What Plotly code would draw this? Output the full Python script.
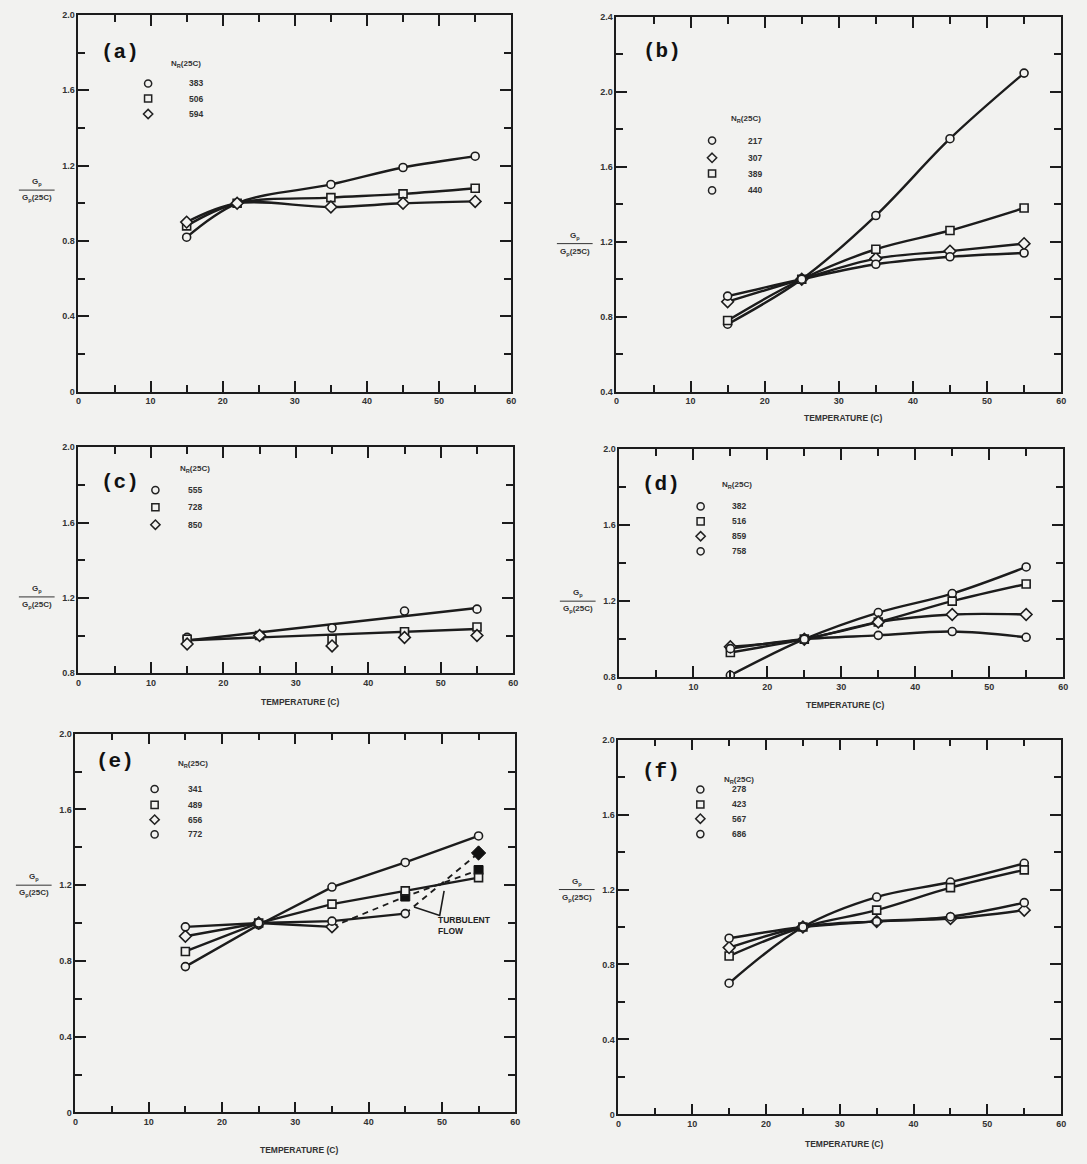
import numpy as np
import plotly.graph_objects as go

W, H = 1087, 1164
BG = "#f2f2f0"
INK = "#1c1c1c"
FONT = "Liberation Sans"

# ---------------- data ----------------
T_A = [15, 22, 35, 45, 55]
T_STD = [15, 25, 35, 45, 55]
T_E_656 = [15, 25, 35]
T_E_772 = [15, 25, 35, 45]
T_E_TURB1 = [35, 45, 55]
T_E_TURB2 = [45, 55]

A_383 = [0.82, 1.00, 1.10, 1.19, 1.25]
A_506 = [0.88, 1.00, 1.03, 1.05, 1.08]
A_594 = [0.90, 1.00, 0.98, 1.00, 1.01]

B_217 = [0.76, 1.00, 1.34, 1.75, 2.10]
B_307 = [0.88, 1.00, 1.11, 1.15, 1.19]
B_389 = [0.78, 1.00, 1.16, 1.26, 1.38]
B_440 = [0.91, 1.00, 1.08, 1.12, 1.14]

C_555 = [0.99, 1.00, 1.04, 1.13, 1.14]
C_728 = [0.98, 1.00, 0.98, 1.02, 1.045]
C_850 = [0.955, 1.00, 0.945, 0.99, 1.00]

D_382 = [0.81, 1.00, 1.14, 1.24, 1.38]
D_516 = [0.93, 1.00, 1.09, 1.20, 1.29]
D_859 = [0.96, 1.00, 1.09, 1.13, 1.13]
D_758 = [0.95, 1.00, 1.02, 1.04, 1.01]

E_341 = [0.77, 0.99, 1.19, 1.32, 1.46]
E_489 = [0.85, 1.00, 1.10, 1.17, 1.24]
E_656 = [0.93, 1.00, 0.98]
E_772 = [0.98, 1.00, 1.01, 1.05]
E_TURB1 = [0.98, 1.14, 1.28]
E_TURB2 = [1.05, 1.37]

F_278 = [0.70, 1.00, 1.16, 1.24, 1.34]
F_423 = [0.845, 1.00, 1.09, 1.21, 1.305]
F_567 = [0.89, 1.00, 1.03, 1.045, 1.09]
F_686 = [0.94, 1.00, 1.03, 1.055, 1.13]

# tick labels
X_TICKS = [0, 10, 20, 30, 40, 50, 60]
X_TICKTEXT = ["0", "10", "20", "30", "40", "50", "60"]
Y_TICKS_0 = [0, 0.4, 0.8, 1.2, 1.6, 2.0]
Y_TEXT_0 = ["0", "0.4", "0.8", "1.2", "1.6", "2.0"]
Y_TICKS_B = [0.4, 0.8, 1.2, 1.6, 2.0, 2.4]
Y_TEXT_B = ["0.4", "0.8", "1.2", "1.6", "2.0", "2.4"]
Y_TICKS_C = [0.8, 1.2, 1.6, 2.0]
Y_TEXT_C = ["0.8", "1.2", "1.6", "2.0"]

# (label, x, y, symbol, line) ; line = "spline" smooth curve, "fit1" least-squares straight line,
# "seg" straight segments, None = no line
SERIES = {
    "a": [("383", T_A, A_383, "circle", "spline"), ("506", T_A, A_506, "square", "spline"),
          ("594", T_A, A_594, "diamond", "spline")],
    "b": [("217", T_STD, B_217, "circle", "spline"), ("307", T_STD, B_307, "diamond", "spline"),
          ("389", T_STD, B_389, "square", "spline"), ("440", T_STD, B_440, "circle", "spline")],
    "c": [("555", T_STD, C_555, "circle", "fit1"), ("728", T_STD, C_728, "square", "fit1"),
          ("850", T_STD, C_850, "diamond", None)],
    "d": [("382", T_STD, D_382, "circle", "spline"), ("516", T_STD, D_516, "square", "spline"),
          ("859", T_STD, D_859, "diamond", "spline"), ("758", T_STD, D_758, "circle", "spline")],
    "e": [("341", T_STD, E_341, "circle", "seg"), ("489", T_STD, E_489, "square", "seg"),
          ("656", T_E_656, E_656, "diamond", "seg"), ("772", T_E_772, E_772, "circle", "seg")],
    "f": [("278", T_STD, F_278, "circle", "spline"), ("423", T_STD, F_423, "square", "spline"),
          ("567", T_STD, F_567, "diamond", "spline"), ("686", T_STD, F_686, "circle", "spline")],
}

# panel boxes in page pixels: left, right, top, bottom
PANELS = {
    "a": dict(box=(76, 512, 10, 390), yr=(0, 2.0), yt=(Y_TICKS_0, Y_TEXT_0), frac=1.07, xtitle=None),
    "b": dict(box=(618, 1066, 12, 390), yr=(0.4, 2.4), yt=(Y_TICKS_B, Y_TEXT_B), frac=1.19, xtitle=27),
    "c": dict(box=(76, 514, 446, 674), yr=(0.8, 2.0), yt=(Y_TICKS_C, Y_TEXT_C), frac=1.205, xtitle=29),
    "d": dict(box=(621, 1068, 448, 678), yr=(0.8, 2.0), yt=(Y_TICKS_C, Y_TEXT_C), frac=1.2, xtitle=28),
    "e": dict(box=(73, 516, 735, 1117), yr=(0, 2.0), yt=(Y_TICKS_0, Y_TEXT_0), frac=1.2, xtitle=38),
    "f": dict(box=(620, 1066, 741, 1119), yr=(0, 2.0), yt=(Y_TICKS_0, Y_TEXT_0), frac=1.2, xtitle=30),
}
# legend placement as fractions of panel (x from left, y from top)
LEGEND_POS = {
    "a": dict(lab=(0.048, 0.10), head=(0.21, 0.13), sym=0.161, num=0.25, rows=[0.182, 0.222, 0.263]),
    "b": dict(lab=(0.056, 0.093), head=(0.254, 0.273), sym=0.215, num=0.292, rows=[0.33, 0.376, 0.418, 0.463]),
    "c": dict(lab=(0.048, 0.156), head=(0.23, 0.095), sym=0.177, num=0.247, rows=[0.19, 0.266, 0.343]),
    "d": dict(lab=(0.046, 0.153), head=(0.227, 0.157), sym=0.183, num=0.25, rows=[0.251, 0.317, 0.382, 0.448]),
    "e": dict(lab=(0.043, 0.074), head=(0.229, 0.079), sym=0.18, num=0.252, rows=[0.146, 0.188, 0.227, 0.266]),
    "f": dict(lab=(0.049, 0.086), head=(0.233, 0.108), sym=0.185, num=0.253, rows=[0.133, 0.173, 0.211, 0.252]),
}

fig = go.Figure()
annotations = []
shapes = []


def px2paper(x, y):
    return x / W, 1 - y / H


def legend_symbol(sym, cx, cy, r=3.6):
    x0, y0 = px2paper(cx - r, cy + r)
    x1, y1 = px2paper(cx + r, cy - r)
    ln = dict(color="#222", width=1.5)
    if sym == "circle":
        return dict(type="circle", xref="paper", yref="paper", x0=x0, x1=x1, y0=y0, y1=y1, line=ln)
    if sym == "square":
        return dict(type="rect", xref="paper", yref="paper", x0=x0, x1=x1, y0=y0, y1=y1, line=ln)
    d = r * 1.3
    pts = [px2paper(cx, cy - d), px2paper(cx + d, cy), px2paper(cx, cy + d), px2paper(cx - d, cy)]
    path = "M " + " L ".join(f"{a:.5f},{b:.5f}" for a, b in pts) + " Z"
    return dict(type="path", xref="paper", yref="paper", path=path, line=ln)


LINE = dict(color=INK, width=2.4)

for i, key in enumerate(["a", "b", "c", "d", "e", "f"], start=1):
    p = PANELS[key]
    l, r, t, b = p["box"]
    xa = "x" if i == 1 else f"x{i}"
    ya = "y" if i == 1 else f"y{i}"
    xname = "xaxis" if i == 1 else f"xaxis{i}"
    yname = "yaxis" if i == 1 else f"yaxis{i}"
    yt, ytxt = p["yt"]
    common = dict(showline=True, linecolor=INK, linewidth=1.6, mirror="ticks", showgrid=False,
                  zeroline=False, ticks="inside", ticklen=11, tickwidth=1.7, tickcolor=INK,
                  tickfont=dict(family=FONT, size=9, color="#333", weight="bold"), fixedrange=True)
    fig.layout[xname] = dict(domain=[l / W, r / W], anchor=ya, range=[0, 60], tickmode="linear",
                             tick0=X_TICKS[0], dtick=X_TICKS[1] - X_TICKS[0], tickformat="d",
                             labelalias={str(v): s for v, s in zip(X_TICKS, X_TICKTEXT)},
                             minor=dict(tick0=0, dtick=(X_TICKS[1] - X_TICKS[0]) / 2, ticks="inside", ticklen=7,
                                        tickwidth=1.7, tickcolor=INK, showgrid=False), **common)
    fig.layout[yname] = dict(domain=[1 - b / H, 1 - t / H], anchor=xa, range=list(p["yr"]), tickmode="linear",
                             tick0=yt[0], dtick=round(yt[1] - yt[0], 3), tickformat=".1f",
                             labelalias={f"{v:.1f}": s for v, s in zip(yt, ytxt)},
                             minor=dict(tick0=0, dtick=round((yt[1] - yt[0]) / 2, 3), ticks="inside", ticklen=7,
                                        tickwidth=1.7, tickcolor=INK, showgrid=False), **common)

    # curves then markers
    for lab, xs, ys, sym, kind in SERIES[key]:
        if kind == "seg":
            fig.add_trace(go.Scatter(x=xs, y=ys, mode="lines", xaxis=xa, yaxis=ya, line=LINE,
                                     showlegend=False, hoverinfo="skip"))
        elif kind == "spline":
            fig.add_trace(go.Scatter(x=xs, y=ys, mode="lines", xaxis=xa, yaxis=ya,
                                     line=dict(LINE, shape="spline", smoothing=1.0),
                                     showlegend=False, hoverinfo="skip"))
        elif kind == "fit1":
            coef = np.polyfit(xs, ys, 1)
            xf = np.array([min(xs), max(xs)], float)
            fig.add_trace(go.Scatter(x=xf, y=np.polyval(coef, xf), mode="lines", xaxis=xa, yaxis=ya,
                                     line=LINE, showlegend=False, hoverinfo="skip"))
    if key == "e":
        for tx, ty in ((T_E_TURB1, E_TURB1), (T_E_TURB2, E_TURB2)):
            fig.add_trace(go.Scatter(x=tx, y=ty, mode="lines", xaxis=xa, yaxis=ya,
                                     line=dict(color=INK, width=1.8, dash="6px,5px"),
                                     showlegend=False, hoverinfo="skip"))
        fig.add_trace(go.Scatter(x=T_E_TURB1[1:], y=E_TURB1[1:], mode="markers", xaxis=xa, yaxis=ya,
                                 marker=dict(symbol="square", size=9, color="#111111",
                                             line=dict(color="#111111", width=1)),
                                 showlegend=False, hoverinfo="skip"))
        fig.add_trace(go.Scatter(x=T_E_TURB2[1:], y=E_TURB2[1:], mode="markers", xaxis=xa, yaxis=ya,
                                 marker=dict(symbol="diamond", size=11, color="#111111",
                                             line=dict(color="#111111", width=1)),
                                 showlegend=False, hoverinfo="skip"))
    for lab, xs, ys, sym, kind in SERIES[key]:
        fig.add_trace(go.Scatter(x=xs, y=ys, mode="markers", xaxis=xa, yaxis=ya, name=lab,
                                 marker=dict(symbol=sym, size=9 if sym == "diamond" else 8, color=BG,
                                             line=dict(color=INK, width=1.6)),
                                 showlegend=False))

    # panel letter and legend
    pw, ph = r - l, b - t
    lp = LEGEND_POS[key]
    ax_, ay_ = px2paper(l + lp["lab"][0] * pw, t + lp["lab"][1] * ph)
    annotations.append(dict(x=ax_, y=ay_, xref="paper", yref="paper", text=f"<b>({key})</b>",
                            showarrow=False, xanchor="left", yanchor="middle",
                            font=dict(family="Liberation Mono", size=21, color="#111")))
    hx, hy = px2paper(l + lp["head"][0] * pw, t + lp["head"][1] * ph)
    annotations.append(dict(x=hx, y=hy, xref="paper", yref="paper", text="N<sub>R</sub>(25C)",
                            showarrow=False, xanchor="left", yanchor="middle",
                            font=dict(family=FONT, size=8, color="#333", weight="bold")))
    for (lab, xs, ys, sym, kind), ry in zip(SERIES[key], lp["rows"]):
        shapes.append(legend_symbol(sym, l + lp["sym"] * pw, t + ry * ph))
        nx, ny = px2paper(l + lp["num"] * pw, t + ry * ph)
        annotations.append(dict(x=nx, y=ny, xref="paper", yref="paper", text=lab,
                                showarrow=False, xanchor="left", yanchor="middle",
                                font=dict(family=FONT, size=8.5, color="#333", weight="bold")))

    # y-axis title as a fraction
    y0, y1 = p["yr"]
    fy = b - (p["frac"] - y0) / (y1 - y0) * ph
    cx = l - 42
    fx, fyp = px2paper(cx, fy)
    annotations.append(dict(x=fx, y=fyp, xref="paper", yref="paper", text="G<sub>p</sub>",
                            showarrow=False, xanchor="center", yanchor="bottom", yshift=1,
                            font=dict(family=FONT, size=8, color="#333", weight="bold")))
    annotations.append(dict(x=fx, y=fyp, xref="paper", yref="paper", text="G<sub>p</sub>(25C)",
                            showarrow=False, xanchor="center", yanchor="top", yshift=-1,
                            font=dict(family=FONT, size=8, color="#333", weight="bold")))
    x0p, _ = px2paper(cx - 18, fy)
    x1p, _ = px2paper(cx + 18, fy)
    shapes.append(dict(type="line", xref="paper", yref="paper", x0=x0p, x1=x1p, y0=fyp, y1=fyp,
                       line=dict(color="#333", width=1)))

    if p["xtitle"] is not None:
        tx, ty = px2paper((l + r) / 2 + 4, b + p["xtitle"])
        annotations.append(dict(x=tx, y=ty, xref="paper", yref="paper", text="TEMPERATURE (C)",
                                showarrow=False, xanchor="center", yanchor="middle",
                                font=dict(family=FONT, size=8.5, color="#333", weight="bold")))

# turbulent flow note in panel (e)
annotations.append(dict(x=49.2, y=0.985, xref="x5", yref="y5", text="TURBULENT<br>FLOW", align="left",
                        showarrow=False, xanchor="left", yanchor="middle",
                        font=dict(family=FONT, size=8.5, color="#222", weight="bold")))
shapes.append(dict(type="path", xref="x5", yref="y5", path="M 46.2,1.085 L 49.7,1.04 L 50.3,1.17",
                   line=dict(color=INK, width=1.6)))

fig.update_layout(width=W, height=H, margin=dict(l=0, r=0, t=0, b=0), paper_bgcolor=BG, plot_bgcolor=BG,
                  showlegend=False, annotations=annotations, shapes=shapes)
fig.write_html("out.html", config={"displayModeBar": False},
               post_script="document.body.style.margin='0';document.body.style.padding='0';")
